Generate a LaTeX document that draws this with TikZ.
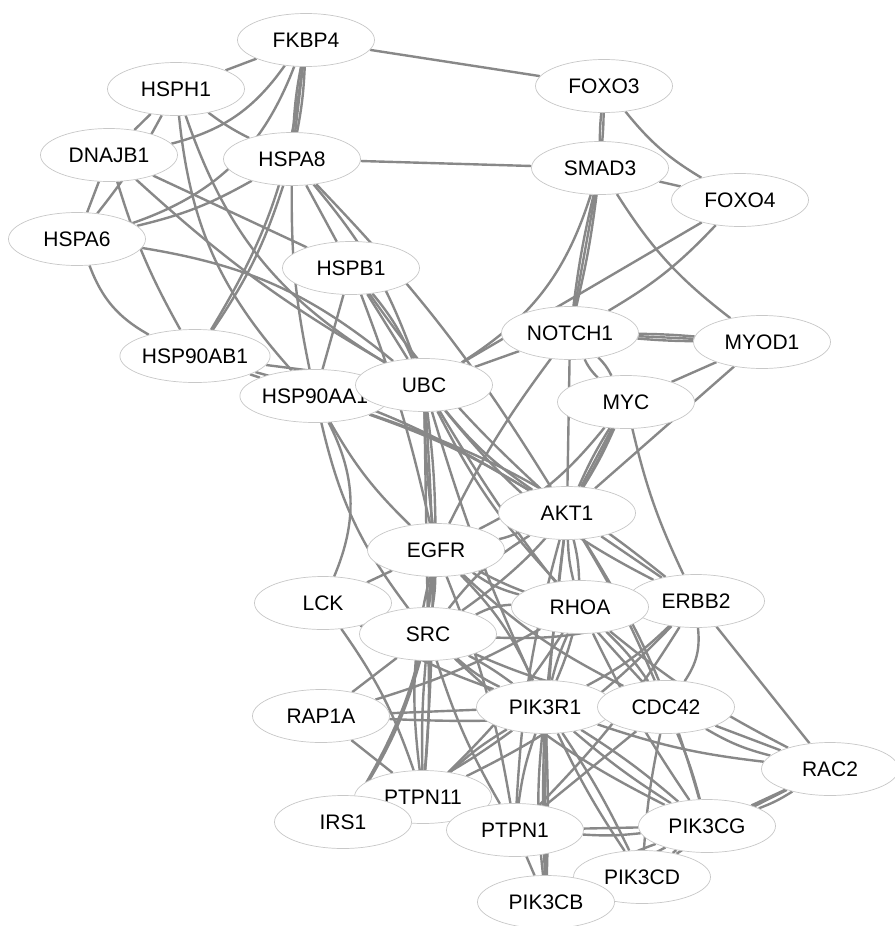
\documentclass[tikz,border=0pt]{standalone}
\usepackage{fontspec}
\usepackage{tikz}
\usetikzlibrary{shapes.geometric, backgrounds}
\newfontfamily\genefont{Liberation Sans}
\definecolor{edgegray}{RGB}{136,136,136}
\definecolor{rimgray}{RGB}{200,200,200}
\tikzstyle{gene} = [ellipse, minimum width=137pt, minimum height=53pt, inner sep=0pt, text centered, draw=rimgray, line width=0.7pt, fill=white, font=\genefont\fontsize{21}{24}\selectfont]
\tikzstyle{link} = [draw=edgegray, line width=2.4pt]

\begin{document}
\begin{tikzpicture}[x=1pt, y=-1pt]
        \useasboundingbox (0,0) rectangle (894,926);
        % heat shock group
        \node (fkbp4) [gene] at (306,40) {FKBP4};
        \node (hsph1) [gene] at (176,89) {HSPH1};
        \node (dnajb1) [gene] at (109,155) {DNAJB1};
        \node (hspa8) [gene] at (292,159) {HSPA8};
        \node (hspa6) [gene] at (77,239) {HSPA6};
        \node (hspb1) [gene] at (351,268) {HSPB1};
        \node (hsp90ab1) [gene] at (195,356) {HSP90AB1};
        \node (hsp90aa1) [gene] at (315,396) {HSP90AA1};
        \node (ubc) [gene] at (424,385) {UBC};
        % transcription factors
        \node (foxo3) [gene] at (604,86) {FOXO3};
        \node (smad3) [gene] at (600,168) {SMAD3};
        \node (foxo4) [gene] at (740,200) {FOXO4};
        \node (notch1) [gene] at (570,333) {NOTCH1};
        \node (myod1) [gene] at (762,342) {MYOD1};
        \node (myc) [gene] at (626,402) {MYC};
        % signalling
        \node (akt1) [gene] at (567,513) {AKT1};
        \node (egfr) [gene] at (436,550) {EGFR};
        \node (lck) [gene] at (323,603) {LCK};
        \node (src) [gene] at (428,634) {SRC};
        \node (erbb2) [gene] at (696,601) {ERBB2};
        \node (rhoa) [gene] at (580,607) {RHOA};
        \node (rap1a) [gene] at (321,716) {RAP1A};
        \node (pik3r1) [gene] at (545,707) {PIK3R1};
        \node (cdc42) [gene] at (666,707) {CDC42};
        \node (rac2) [gene] at (830,769) {RAC2};
        \node (ptpn11) [gene] at (423,797) {PTPN11};
        \node (irs1) [gene] at (343,822) {IRS1};
        \node (ptpn1) [gene] at (515,830) {PTPN1};
        \node (pik3cg) [gene] at (707,826) {PIK3CG};
        \node (pik3cd) [gene] at (642,877) {PIK3CD};
        \node (pik3cb) [gene] at (546,902) {PIK3CB};

        \begin{scope}[on background layer]
        \draw [link] (fkbp4) -- (hsph1);
        \draw [link] (fkbp4) -- (foxo3);
        \draw [link] (fkbp4) to[bend left=-4] (hspa8);
        \draw [link] (fkbp4) -- (hspa8);
        \draw [link] (fkbp4) to[bend left=4] (hspa8);
        \draw [link] (fkbp4) to[bend left=20] (dnajb1);
        \draw [link] (fkbp4) to[bend left=25] (hspa6);
        \draw [link] (fkbp4) to[bend left=12] (hsp90ab1);
        \draw [link] (hsph1) -- (dnajb1);
        \draw [link] (hsph1) to[bend left=5] (hspa6);
        \draw [link] (hsph1) to[bend right=5] (hspa8);
        \draw [link] (hsph1) to[bend right=18] (hsp90aa1);
        \draw [link] (hsph1) to[bend right=20] (ubc);
        \draw [link] (dnajb1) -- (hspa6);
        \draw [link] (dnajb1) to[bend right=6] (hsp90ab1);
        \draw [link] (dnajb1) -- (hspb1);
        \draw [link] (dnajb1) to[bend right=6] (ubc);
        \draw [link] (hspa6) to[bend right=20] (hsp90ab1);
        \draw [link] (hspa6) to[bend right=8] (hspa8);
        \draw [link] (hspa6) to[bend left=15] (ubc);
        \draw [link] (hspa8) -- (smad3);
        \draw [link] (hspa8) -- (hspb1);
        \draw [link] (hspa8) to[bend left=8] (hsp90ab1);
        \draw [link] (hspa8) to[bend right=6] (hsp90aa1);
        \draw [link] (hspa8) to[bend left=10] (ubc);
        \draw [link] (hspa8) to[bend left=6] (akt1);
        \draw [link] (hspb1) -- (hsp90aa1);
        \draw [link] (hspb1) -- (ubc);
        \draw [link] (hspb1) to[bend left=8] (ubc);
        \draw [link] (hspb1) to[bend right=6] (akt1);
        \draw [link] (hspb1) to[bend left=4] (egfr);
        \draw [link] (hsp90ab1) -- (hsp90aa1);
        \draw [link] (hsp90ab1) -- (ubc);
        \draw [link] (hsp90ab1) to[bend left=8] (akt1);
        \draw [link] (hsp90aa1) to[bend left=6] (akt1);
        \draw [link] (hsp90aa1) to[bend right=8] (egfr);
        \draw [link] (hsp90aa1) to[bend right=12] (src);
        \draw [link] (hsp90aa1) to[bend left=10] (erbb2);
        \draw [link] (foxo3) to[bend right=3] (smad3);
        \draw [link] (foxo3) to[bend left=2] (smad3);
        \draw [link] (foxo3) to[bend right=10] (foxo4);
        \draw [link] (smad3) -- (foxo4);
        \draw [link] (smad3) to[bend right=3] (notch1);
        \draw [link] (smad3) -- (notch1);
        \draw [link] (smad3) to[bend left=3] (notch1);
        \draw [link] (smad3) to[bend left=20] (ubc);
        \draw [link] (smad3) to[bend right=10] (myod1);
        \draw [link] (foxo4) -- (ubc);
        \draw [link] (foxo4) to[bend left=8] (notch1);
        \draw [link] (notch1) to[bend right=2] (myod1);
        \draw [link] (notch1) -- (myod1);
        \draw [link] (notch1) to[bend left=2] (myod1);
        \draw [link] (notch1) -- (ubc);
        \draw [link] (notch1) to[bend left=10] (myc);
        \draw [link] (notch1) to[bend right=10] (myc);
        \draw [link] (notch1) -- (akt1);
        \draw [link] (notch1) to[bend right=5] (egfr);
        \draw [link] (myod1) -- (myc);
        \draw [link] (myod1) -- (akt1);
        \draw [link] (myc) to[bend right=4] (akt1);
        \draw [link] (myc) -- (akt1);
        \draw [link] (myc) to[bend left=4] (akt1);
        \draw [link] (myc) to[bend left=12] (egfr);
        \draw [link] (myc) to[bend right=6] (erbb2);
        \draw [link] (myc) to[bend left=15] (src);
        \draw [link] (ubc) to[bend left=3] (egfr);
        \draw [link] (ubc) to[bend right=3] (egfr);
        \draw [link] (ubc) to[bend right=8] (akt1);
        \draw [link] (ubc) -- (src);
        \draw [link] (ubc) to[bend right=8] (rhoa);
        \draw [link] (ubc) to[bend right=4] (pik3r1);
        \draw [link] (ubc) to[bend right=12] (erbb2);
        \draw [link] (ubc) to[bend right=6] (cdc42);
        \draw [link] (ubc) to[bend left=4] (ptpn11);
        \draw [link] (akt1) to[bend left=6] (egfr);
        \draw [link] (akt1) to[bend left=6] (rhoa);
        \draw [link] (akt1) to[bend right=6] (rhoa);
        \draw [link] (akt1) -- (erbb2);
        \draw [link] (akt1) -- (pik3r1);
        \draw [link] (akt1) to[bend right=10] (src);
        \draw [link] (akt1) to[bend right=6] (ptpn1);
        \draw [link] (akt1) to[bend left=8] (pik3cg);
        \draw [link] (akt1) to[bend right=4] (pik3cb);
        \draw [link] (akt1) to[bend left=4] (cdc42);
        \draw [link] (egfr) to[bend right=4] (src);
        \draw [link] (egfr) to[bend left=4] (src);
        \draw [link] (egfr) -- (lck);
        \draw [link] (egfr) to[bend right=15] (erbb2);
        \draw [link] (egfr) to[bend left=10] (pik3r1);
        \draw [link] (egfr) to[bend right=10] (ptpn11);
        \draw [link] (egfr) to[bend left=6] (ptpn1);
        \draw [link] (egfr) to[bend right=10] (rhoa);
        \draw [link] (egfr) to[bend right=8] (cdc42);
        \draw [link] (egfr) to[bend left=12] (irs1);
        \draw [link] (lck) -- (src);
        \draw [link] (lck) to[bend right=25] (hsp90aa1);
        \draw [link] (lck) to[bend right=6] (pik3r1);
        \draw [link] (lck) to[bend left=8] (ptpn11);
        \draw [link] (src) -- (rap1a);
        \draw [link] (src) to[bend right=8] (pik3r1);
        \draw [link] (src) to[bend left=4] (pik3r1);
        \draw [link] (src) to[bend left=3] (ptpn11);
        \draw [link] (src) to[bend right=3] (ptpn11);
        \draw [link] (src) to[bend right=6] (ptpn1);
        \draw [link] (src) to[bend left=12] (rhoa);
        \draw [link] (src) to[bend right=10] (erbb2);
        \draw [link] (src) to[bend right=6] (cdc42);
        \draw [link] (src) to[bend left=8] (irs1);
        \draw [link] (src) to[bend right=8] (pik3cg);
        \draw [link] (rhoa) -- (erbb2);
        \draw [link] (rhoa) to[bend right=5] (pik3r1);
        \draw [link] (rhoa) to[bend left=4] (pik3r1);
        \draw [link] (rhoa) to[bend left=6] (cdc42);
        \draw [link] (rhoa) to[bend right=6] (rac2);
        \draw [link] (rhoa) to[bend right=4] (pik3cg);
        \draw [link] (rhoa) to[bend left=6] (ptpn11);
        \draw [link] (erbb2) to[bend left=8] (pik3r1);
        \draw [link] (erbb2) -- (rac2);
        \draw [link] (erbb2) to[bend left=20] (cdc42);
        \draw [link] (erbb2) to[bend left=10] (ptpn11);
        \draw [link] (erbb2) to[bend left=6] (ptpn1);
        \draw [link] (rap1a) -- (pik3r1);
        \draw [link] (rap1a) -- (ptpn11);
        \draw [link] (rap1a) to[bend right=6] (rhoa);
        \draw [link] (rap1a) to[bend right=4] (cdc42);
        \draw [link] (pik3r1) -- (cdc42);
        \draw [link] (pik3r1) to[bend right=6] (ptpn11);
        \draw [link] (pik3r1) to[bend left=6] (irs1);
        \draw [link] (pik3r1) to[bend right=6] (ptpn1);
        \draw [link] (pik3r1) to[bend right=4] (pik3cg);
        \draw [link] (pik3r1) to[bend left=4] (pik3cg);
        \draw [link] (pik3r1) to[bend right=4] (pik3cd);
        \draw [link] (pik3r1) to[bend left=4] (pik3cd);
        \draw [link] (pik3r1) to[bend right=6] (pik3cb);
        \draw [link] (pik3r1) to[bend right=2] (pik3cb);
        \draw [link] (pik3r1) to[bend left=2] (pik3cb);
        \draw [link] (pik3r1) to[bend right=6] (rac2);
        \draw [link] (cdc42) -- (rac2);
        \draw [link] (cdc42) to[bend right=8] (rac2);
        \draw [link] (cdc42) to[bend left=4] (pik3cg);
        \draw [link] (cdc42) to[bend right=4] (pik3cd);
        \draw [link] (cdc42) -- (ptpn1);
        \draw [link] (rac2) -- (pik3cg);
        \draw [link] (rac2) to[bend left=6] (pik3cg);
        \draw [link] (rac2) to[bend right=4] (pik3cd);
        \draw [link] (ptpn11) -- (ptpn1);
        \draw [link] (ptpn1) -- (pik3cg);
        \draw [link] (ptpn1) to[bend right=5] (pik3cg);
        \draw [link] (ptpn1) -- (pik3cb);
        \draw [link] (pik3cg) -- (pik3cd);
        \draw [link] (pik3cg) to[bend right=6] (pik3cb);
        \draw [link] (pik3cg) to[bend left=2] (pik3cb);
        \draw [link] (pik3cd) -- (pik3cb);
        \end{scope}
        \end{tikzpicture}
\end{document}
